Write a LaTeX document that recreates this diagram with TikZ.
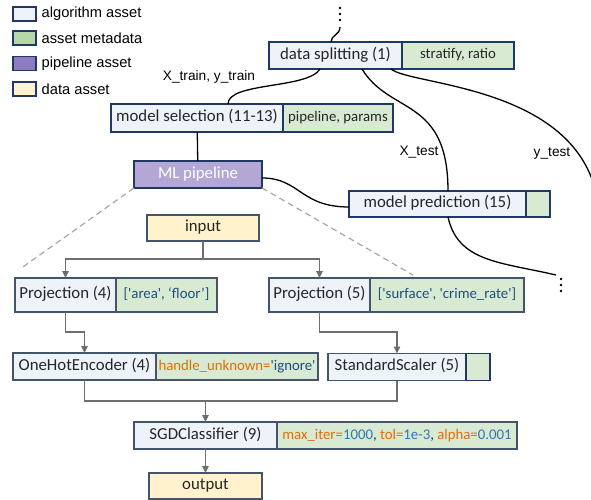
\documentclass[tikz,border=0pt]{standalone}
\usepackage{fontspec}
\setmainfont{Carlito}
\newfontfamily\arialfont{Liberation Sans}
\usetikzlibrary{positioning,arrows.meta}

\definecolor{navy}{HTML}{203864}
\definecolor{slate}{HTML}{44546A}
\definecolor{algfill}{HTML}{EEF3FA}
\definecolor{metafill}{HTML}{D9EAD3}
\definecolor{metalegend}{HTML}{B6D7A8}
\definecolor{pipefill}{HTML}{B4A7D6}
\definecolor{pipelegend}{HTML}{8E7CC3}
\definecolor{datafill}{HTML}{FFF2CC}
\definecolor{textdark}{HTML}{262626}
\definecolor{keyorange}{HTML}{E46C0A}
\definecolor{valblue}{HTML}{2E75B6}
\definecolor{strblue}{HTML}{1F4E79}
\definecolor{flowgray}{HTML}{6E6E6E}
\definecolor{zoomgray}{HTML}{A6A6A6}

\newcommand{\argkey}[1]{\textcolor{keyorange}{#1}}
\newcommand{\argval}[1]{\textcolor{valblue}{#1}}
\newcommand{\argstr}[1]{\textcolor{strblue}{#1}}
\newcommand{\sq}{\textquotesingle}

\tikzset{
  boxfont/.style={font=\fontsize{16.8}{18}\selectfont, text height=11pt, text depth=3.5pt},
  metafont/.style={font=\fontsize{14.8}{16}\selectfont, text height=10pt, text depth=3pt},
  algbox/.style={boxfont, draw=navy, line width=1.6pt, fill=algfill, text=textdark,
    minimum height=27pt, inner sep=0pt, outer sep=0pt},
  metabox/.style={metafont, draw=navy, line width=1.6pt, fill=metafill, text=textdark,
    minimum height=27pt, inner sep=0pt, outer sep=0pt},
  pipebox/.style={algbox, fill=pipefill, text=white},
  stepbox/.style={algbox, draw=slate, line width=1.1pt},
  stepmeta/.style={metabox, draw=slate, line width=1.1pt},
  databox/.style={stepbox, fill=datafill, minimum height=26pt},
  legbox/.style={draw=navy, line width=1.6pt, minimum width=23pt, minimum height=14pt,
    inner sep=0pt, outer sep=0pt},
  legtext/.style={font=\arialfont\fontsize{14.7}{16}\selectfont, text=black, inner sep=0pt},
  datalabel/.style={font=\arialfont\fontsize{13.7}{15}\selectfont, text=black, inner sep=0pt},
  link/.style={black, line width=1.3pt},
  zoomline/.style={zoomgray, line width=1.2pt, dash pattern=on 6pt off 4pt},
  flow/.style={flowgray, line width=1.3pt},
  flowarrow/.style={flow, -{Triangle[length=7pt, width=6.5pt]}},
}

\begin{document}
\begin{tikzpicture}[x=1pt, y=-1pt]
  \useasboundingbox (0,0) rectangle (591,500);
  \clip (0,0) rectangle (591,500);

  % legend
  \node[legbox, fill=algfill] (legalg) at (24.5,14) {};
  \node[legtext, right=5.5pt of legalg] (legalgtext) {algorithm asset};
  \node[legbox, fill=metalegend] (legmeta) at (24.5,38) {};
  \node[legtext, right=5.5pt of legmeta] (legmetatext) {asset metadata};
  \node[legbox, fill=pipelegend] (legpipe) at (24.5,63.5) {};
  \node[legtext, right=5.5pt of legpipe] (legpipetext) {pipeline asset};
  \node[legbox, fill=datafill] (legdata) at (24.5,89) {};
  \node[legtext, right=5.5pt of legdata] (legdatatext) {data asset};

  % workflow
  \node[algbox, minimum width=133pt] (split) at (335.5,55.5) {data splitting (1)};
  \node[metabox, minimum width=112pt, right=0pt of split] (splitmeta) {stratify, ratio};
  \node[algbox, minimum width=172pt, minimum height=28pt] (select) at (197,118) {model selection (11-13)};
  \node[metabox, minimum width=110pt, minimum height=28pt, right=0pt of select] (selectmeta) {pipeline, params};
  \node[pipebox, minimum width=128pt] (mlpipe) at (198,174.5) {ML pipeline};
  \node[algbox, minimum width=177pt, minimum height=26pt] (predict) at (437.5,204) {model prediction (15)};
  \node[metabox, minimum width=24pt, minimum height=26pt, right=0pt of predict] (predictmeta) {};

  \node[datalabel] (trainlabel) at (209,77) {X\_train, y\_train};
  \node[datalabel] (xtestlabel) at (419,152) {X\_test};
  \node[datalabel] (ytestlabel) at (552,153) {y\_test};

  \coordinate (topend) at (340,27);
  \coordinate (ytestend) at (593,182);
  \coordinate (bottomdots) at (556,275);
  \foreach \y in {8,14,20}
    \fill (340,\y) circle[radius=1.3pt];
  \foreach \y in {279,285,291}
    \fill (561,\y) circle[radius=1.3pt];

  \draw[link] (topend) .. controls +(0,8) and +(0,-7) .. ([xshift=-4.5pt]split.north);
  \draw[link] ([xshift=-15.5pt]split.south) .. controls +(-12,20) and +(0,-22) .. ([xshift=31pt]select.north);
  \draw[link] ([xshift=26.5pt]split.south) .. controls +(28,46) and +(0,-94) .. ([xshift=10.5pt]predict.north);
  \draw[link] ([xshift=55.5pt]split.south) .. controls +(19,16) and +(-33,-97) .. (ytestend);
  \draw[link] (select) -- (mlpipe);
  \draw[link] ([yshift=-3.5pt]mlpipe.east) .. controls +(38,0) and +(-49,0) .. ([yshift=-3pt]predict.west);
  \draw[link] ([xshift=10.5pt]predict.south) .. controls +(10,45) and +(-56,-13) .. (bottomdots);

  % zoom into the pipeline
  \coordinate (zoomleft) at (20,269);
  \coordinate (zoomright) at (413,275);
  \draw[zoomline] (mlpipe.south west) -- (zoomleft);
  \draw[zoomline] (mlpipe.south east) -- (zoomright);

  % pipeline steps
  \node[databox, minimum width=112pt] (input) at (203,228) {input};
  \node[stepbox, minimum width=101pt, minimum height=34pt] (proj4) at (65.5,295) {Projection (4)};
  \node[stepmeta, minimum width=101pt, minimum height=34pt, right=0pt of proj4] (proj4meta)
    {\argstr{[\sq area\sq, ‘floor’]}};
  \node[stepbox, minimum width=101pt, minimum height=34pt] (proj5) at (319.5,295) {Projection (5)};
  \node[stepmeta, minimum width=154pt, minimum height=34pt, right=0pt of proj5] (proj5meta)
    {\argstr{[\sq surface\sq, \sq crime\_rate\sq]}};
  \node[stepbox, minimum width=143pt] (ohe) at (84.5,366.5) {OneHotEncoder (4)};
  \node[stepmeta, minimum width=162pt, right=0pt of ohe] (ohemeta)
    {\argkey{handle\_unknown=}\argstr{\sq ignore\sq}};
  \node[stepbox, minimum width=138pt] (scaler) at (397,367) {StandardScaler (5)};
  \node[metabox, minimum width=24pt, right=0pt of scaler] (scalermeta) {};
  \node[stepbox, minimum width=143pt] (sgd) at (205.5,435.5) {SGDClassifier (9)};
  \node[stepmeta, minimum width=240pt, right=0pt of sgd] (sgdmeta)
    {\argkey{max\_iter=}\argval{1000}, \argkey{tol=}\argval{1e-3}, \argkey{alpha=}\argval{0.001}};
  \node[databox, minimum width=113pt] (output) at (205.5,486) {output};

  \coordinate (fork) at (203,259);
  \coordinate (merge) at (205.5,401);
  \draw[flow] (input) -- (fork);
  \draw[flowarrow] (fork) -| (proj4);
  \draw[flowarrow] (fork) -| (proj5);
  \draw[flowarrow] (proj4.south) -- ++(0,20) -| (ohe);
  \draw[flowarrow] (proj5.south) -- ++(0,20) -| (scaler);
  \draw[flow] (ohe) |- (merge);
  \draw[flow] (scaler) |- (merge);
  \draw[flowarrow] (merge) -- (sgd);
  \draw[flowarrow] (sgd) -- (output);
\end{tikzpicture}
\end{document}
